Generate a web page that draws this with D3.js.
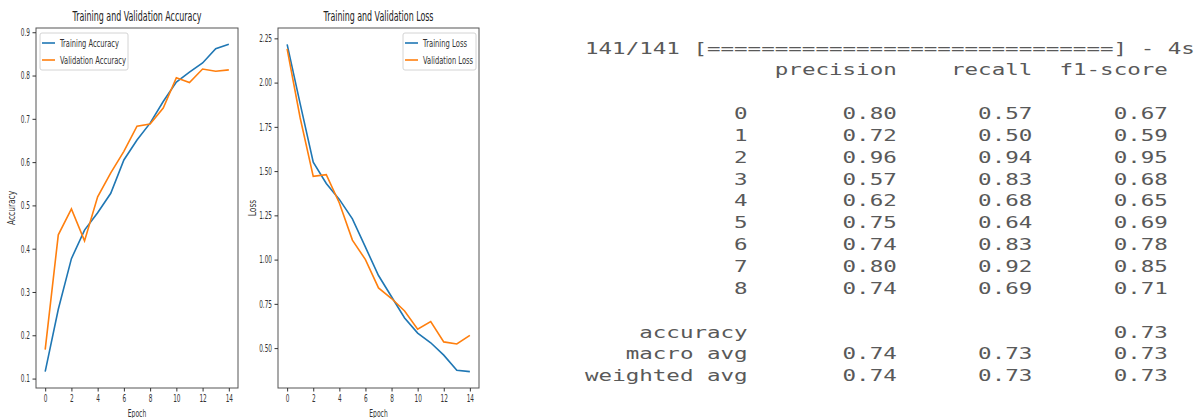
<!DOCTYPE html>
<html>
<head>
<meta charset="utf-8" />
<script src="https://cdn.jsdelivr.net/npm/d3@7"></script>
<style>
  body { margin: 0; background: #fff; }
  .plot text { font-family: "DejaVu Sans", sans-serif; }
  .report text { font-family: "DejaVu Sans Mono", monospace; }
</style>
</head>
<body>
<script>
    // training history (15 epochs)
    var epochs = d3.range(0, 15);
    var trainAcc = [0.116, 0.26, 0.377, 0.443, 0.483, 0.528, 0.605, 0.651, 0.69, 0.74, 0.785, 0.808, 0.829, 0.862, 0.872];
    var valAcc = [0.167, 0.432, 0.492, 0.418, 0.52, 0.575, 0.625, 0.683, 0.688, 0.725, 0.795, 0.784, 0.815, 0.81, 0.813];
    var trainLoss = [2.216, 1.88, 1.55, 1.43, 1.34, 1.23, 1.07, 0.91, 0.79, 0.67, 0.585, 0.53, 0.46, 0.375, 0.367];
    var valLoss = [2.19, 1.80, 1.47, 1.48, 1.32, 1.11, 1.0, 0.84, 0.78, 0.71, 0.607, 0.65, 0.535, 0.523, 0.572];
    var accTicks = [0.1, 0.2, 0.3, 0.4, 0.5, 0.6, 0.7, 0.8, 0.9];
    var lossTicks = [0.5, 0.75, 1.0, 1.25, 1.5, 1.75, 2.0, 2.25];
    var epochTicks = [0, 2, 4, 6, 8, 10, 12, 14];

    // classification report
    var classes = ['0', '1', '2', '3', '4', '5', '6', '7', '8'];
    var precision = [0.80, 0.72, 0.96, 0.57, 0.62, 0.75, 0.74, 0.80, 0.74];
    var recall = [0.57, 0.50, 0.94, 0.83, 0.68, 0.64, 0.83, 0.92, 0.69];
    var f1 = [0.67, 0.59, 0.95, 0.68, 0.65, 0.69, 0.78, 0.85, 0.71];
    var accuracy = 0.73;
    var macroAvg = [0.74, 0.73, 0.73];
    var weightedAvg = [0.74, 0.73, 0.73];
    var headers = ['precision', 'recall', 'f1-score'];

    var width = 1202, height = 418;
    var blue = '#1f77b4', orange = '#ff7f0e';

    var svg = d3.select('body').append('svg')
        .attr('width', width)
        .attr('height', height);

    // the chart text in the picture is squeezed horizontally
    function squeeze(sel, k) {
        sel.each(function () {
            var w = this.getComputedTextLength();
            d3.select(this).attr('textLength', w * k).attr('lengthAdjust', 'spacingAndGlyphs');
        });
    }
    function fitText(sel, w) {
        sel.attr('textLength', w).attr('lengthAdjust', 'spacingAndGlyphs');
    }

    function padded(vals) {
        var ext = d3.extent(vals);
        var m = (ext[1] - ext[0]) * 0.05;
        return [ext[0] - m, ext[1] + m];
    }

    function drawPlot(opt) {
        var g = svg.append('g').attr('class', 'plot');
        var x = d3.scaleLinear().domain([-0.7, 14.7]).range([opt.left, opt.right]);
        var y = d3.scaleLinear().domain(padded(opt.a.concat(opt.b))).range([388, 28]);

        var line = d3.line()
            .x(function (d, i) { return x(epochs[i]); })
            .y(function (d) { return y(d); });

        g.append('path').datum(opt.a)
            .attr('d', line).attr('fill', 'none')
            .attr('stroke', blue).attr('stroke-width', 1.6);
        g.append('path').datum(opt.b)
            .attr('d', line).attr('fill', 'none')
            .attr('stroke', orange).attr('stroke-width', 1.6);

        // frame
        g.append('rect')
            .attr('x', opt.left).attr('y', 28)
            .attr('width', opt.right - opt.left).attr('height', 360)
            .attr('fill', 'none').attr('stroke', '#555').attr('stroke-width', 1);

        var xa = g.append('g')
            .attr('transform', 'translate(0,388)')
            .call(d3.axisBottom(x).tickValues(epochTicks).tickSize(3.5).tickPadding(3));
        var ya = g.append('g')
            .attr('transform', 'translate(' + opt.left + ',0)')
            .call(d3.axisLeft(y).tickValues(opt.ticks).tickFormat(d3.format(opt.fmt)).tickSize(3.5).tickPadding(2.5));
        [xa, ya].forEach(function (a) {
            a.select('.domain').remove();
            a.selectAll('line').attr('stroke', '#333');
            a.selectAll('text').attr('font-size', 10.5).attr('fill', '#333');
            squeeze(a.selectAll('text'), 0.55);
        });

        var cx = (opt.left + opt.right) / 2;
        g.append('text')
            .attr('x', cx).attr('y', 21)
            .attr('text-anchor', 'middle')
            .attr('font-size', 13.5).attr('fill', '#222')
            .text(opt.title)
            .call(fitText, opt.titleW);

        g.append('text')
            .attr('x', cx).attr('y', 417)
            .attr('text-anchor', 'middle')
            .attr('font-size', 10).attr('fill', '#333')
            .text('Epoch')
            .call(squeeze, 0.6);

        g.append('text')
            .attr('transform', 'translate(' + opt.ylabX + ',208) rotate(-90)')
            .attr('text-anchor', 'middle')
            .attr('font-size', 10).attr('fill', '#333')
            .text(opt.ylab)
            .call(squeeze, 0.75);

        // legend
        var lg = g.append('g').attr('transform', 'translate(' + opt.legX + ',33)');
        lg.append('rect')
            .attr('width', opt.legW).attr('height', 37).attr('rx', 2)
            .attr('fill', '#fff').attr('stroke', '#d4d4d4').attr('stroke-width', 1);
        [[opt.labels[0], blue, opt.labW[0]], [opt.labels[1], orange, opt.labW[1]]].forEach(function (e, i) {
            var yy = 10 + i * 17;
            lg.append('line')
                .attr('x1', 2).attr('x2', 15).attr('y1', yy).attr('y2', yy)
                .attr('stroke', e[1]).attr('stroke-width', 1.6);
            lg.append('text')
                .attr('x', 20).attr('y', yy + 3.5)
                .attr('font-size', 10).attr('fill', '#333')
                .text(e[0])
                .call(fitText, e[2]);
        });
    }

    drawPlot({
        left: 36, right: 238, a: trainAcc, b: valAcc, ticks: accTicks, fmt: '.1f',
        title: 'Training and Validation Accuracy', titleW: 129, ylab: 'Accuracy', ylabX: 15,
        legX: 40, legW: 88, labels: ['Training Accuracy', 'Validation Accuracy'], labW: [59, 66]
    });
    drawPlot({
        left: 278, right: 479, a: trainLoss, b: valLoss, ticks: lossTicks, fmt: '.2f',
        title: 'Training and Validation Loss', titleW: 110, ylab: 'Loss', ylabX: 256,
        legX: 403, legW: 73, labels: ['Training Loss', 'Validation Loss'], labW: [44, 50]
    });

    // classification report, monospace text laid out on a character grid
    var chars = d3.scaleLinear().domain([0, 45]).range([585, 1195]);
    var rows = d3.scaleLinear().domain([0, 1]).range([53.5, 75.35]);
    var charW = (chars(1) - chars(0));
    var fontSize = 15;
    var sx = charW / (0.602 * fontSize);
    var colEnds = [12, 23, 33, 43];

    var report = svg.append('g')
        .attr('class', 'report')
        .attr('font-size', fontSize)
        .attr('fill', '#595959');

    function cell(col, row, str, anchor) {
        report.append('text')
            .attr('transform', 'translate(' + chars(col) + ',' + rows(row) + ') scale(' + sx + ',1)')
            .attr('text-anchor', anchor || 'end')
            .text(str);
    }

    var bar = '[' + d3.range(30).map(function () { return '='; }).join('') + ']';
    cell(0, 0, '141/141 ' + bar + ' - 4s', 'start');
    headers.forEach(function (h, j) { cell(colEnds[j + 1], 1, h); });

    var fmt = d3.format('.2f');
    classes.forEach(function (c, i) {
        var r = 3 + i;
        cell(colEnds[0], r, c);
        cell(colEnds[1], r, fmt(precision[i]));
        cell(colEnds[2], r, fmt(recall[i]));
        cell(colEnds[3], r, fmt(f1[i]));
    });
    cell(colEnds[0], 13, 'accuracy');
    cell(colEnds[3], 13, fmt(accuracy));
    [['macro avg', macroAvg], ['weighted avg', weightedAvg]].forEach(function (d, i) {
        cell(colEnds[0], 14 + i, d[0]);
        d[1].forEach(function (v, j) { cell(colEnds[j + 1], 14 + i, fmt(v)); });
    });
</script>
</body>
</html>
